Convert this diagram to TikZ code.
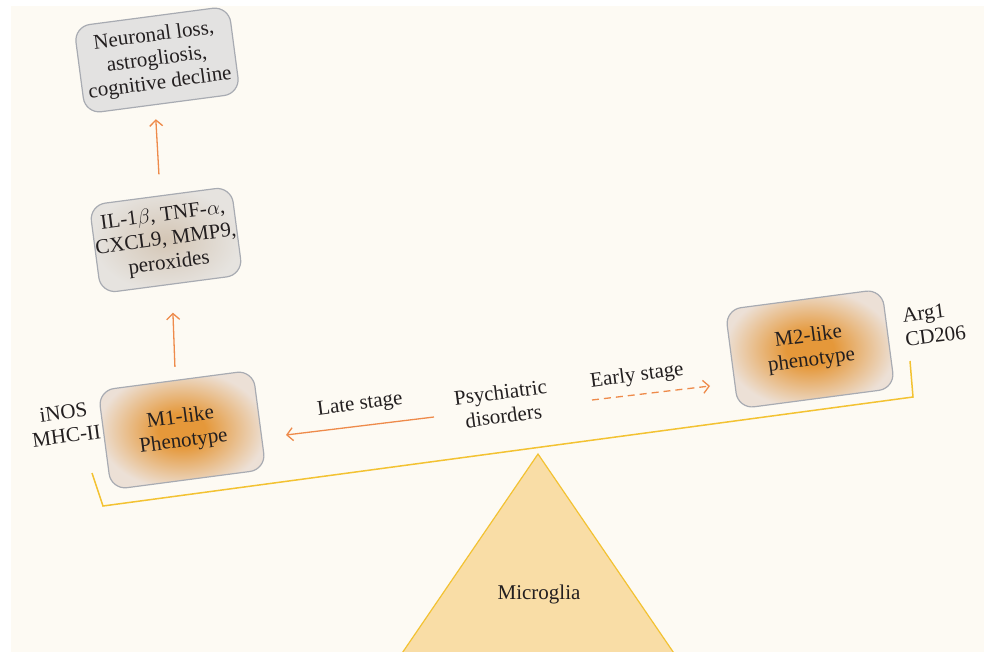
\documentclass[tikz,border=0pt]{standalone}
\usepackage{fontspec}
\setmainfont{Liberation Serif}
\usepackage{tikz}
\usetikzlibrary{arrows.meta, calc}
\definecolor{cream}{HTML}{FDFAF3}
\definecolor{ink}{HTML}{231F20}
\definecolor{arrowor}{HTML}{EE8A4A}
\definecolor{beamyel}{HTML}{F3C232}
\definecolor{trifill}{HTML}{F9DDA6}
\definecolor{boxgrey}{HTML}{E3E2E1}
\definecolor{boxline}{HTML}{A8ABB2}
\definecolor{phenocore}{HTML}{E5983A}
\definecolor{phenoedge}{HTML}{ECE0D6}
\definecolor{ilcore}{HTML}{D4C6B5}
\definecolor{iledge}{HTML}{E6E3DF}
\pgfdeclareradialshading{phenoglow}{\pgfpoint{0bp}{0bp}}{color(0bp)=(phenocore); color(7bp)=(phenocore); color(25bp)=(phenoedge); color(50bp)=(phenoedge)}
\pgfdeclareradialshading{ilglow}{\pgfpoint{0bp}{0bp}}{color(0bp)=(ilcore); color(24bp)=(iledge); color(50bp)=(iledge)}
\tikzset{tilt/.style={rotate=7.5},
roundbox/.style={tilt, draw=boxline, line width=1.2pt, rounded corners=16pt, align=center, inner sep=0pt},
greybox/.style={roundbox, fill=boxgrey},
ilbox/.style={roundbox, shade, shading=ilglow},
phenobox/.style={roundbox, shade, shading=phenoglow},
link/.style={arrowor, line width=1.3pt, -{Straight Barb[length=6pt,width=13pt]}},
tag/.style={tilt, align=center}}

\begin{document}
\begin{tikzpicture}[x=1pt, y=-1pt, font=\fontsize{21}{24}\selectfont, text=ink]
\useasboundingbox (0,0) rectangle (984,652);
\fill[cream] (11,6) rectangle (984,652);
% pivot
\coordinate (apex) at (538,454);
\coordinate (baseL) at (396,662);
\coordinate (baseR) at (680,662);
\filldraw[fill=trifill, draw=beamyel, line width=1.2pt] (apex) -- (baseL) -- (baseR) -- cycle;
\node (micro) at (539,594) {Microglia};
% beam
\coordinate (beamLt) at (92,473);
\coordinate (beamL) at (103,506);
\coordinate (beamR) at (913,397);
\coordinate (beamRt) at (910,361);
\draw[beamyel, line width=1.5pt] (beamLt) -- (beamL) -- (beamR) -- (beamRt);
% boxes
\node[greybox, minimum width=156pt, minimum height=88pt] (loss) at (157,60) {Neuronal loss,\\ astrogliosis,\\ cognitive decline};
\node[ilbox, minimum width=143pt, minimum height=89pt] (cyto) at (166,240) {IL-1$\beta$, TNF-$\alpha$,\\ CXCL9, MMP9,\\ peroxides};
\node[phenobox, minimum width=156pt, minimum height=100pt] (mone) at (182,430) {M1-like\\ Phenotype};
\node[phenobox, minimum width=158pt, minimum height=100pt] (mtwo) at (810,349) {M2-like\\ phenotype};
\node[tag] (monemark) at (65,424) {iNOS\\ MHC-II};
\node[tag, align=left] (mtwomark) at (934,324) {Arg1\\ CD206};
\node[tag] (psych) at (502,404) {Psychiatric\\ disorders};
\node[tag] (late) at (360,405) {Late stage};
\node[tag] (early) at (637,376) {Early stage};
% arrows
\coordinate (lateFrom) at (434,417);
\coordinate (lateTo) at (286,435);
\coordinate (earlyFrom) at (592,400);
\coordinate (earlyTo) at (710,386);
\draw[link] (lateFrom) -- (lateTo);
\draw[link, dash pattern=on 7pt off 5pt] (earlyFrom) -- (earlyTo);
\draw[link, shorten <=13pt, shorten >=28pt] (mone.north) -- (cyto.south);
\draw[link, shorten <=21pt, shorten >=14pt] (cyto.north) -- ($(loss.south west)!0.45!(loss.south east)$);
\end{tikzpicture}
\end{document}
